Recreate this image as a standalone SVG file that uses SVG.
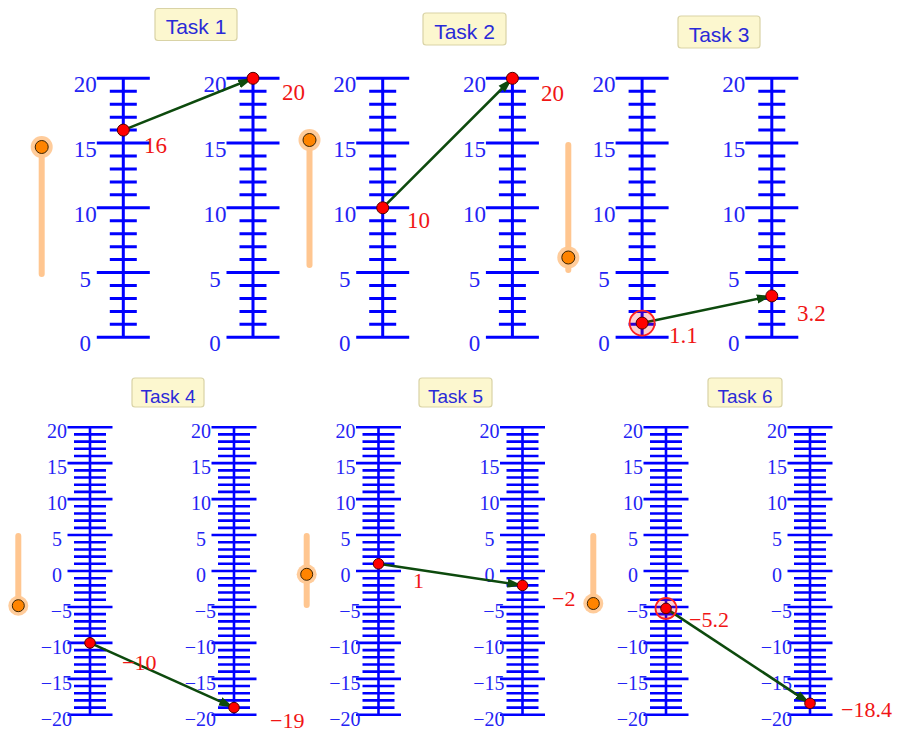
<svg xmlns="http://www.w3.org/2000/svg" xmlns:xlink="http://www.w3.org/1999/xlink" width="897" height="747" viewBox="0 0 897 747">
<style>
.ax{stroke:#0000ff;stroke-width:3;fill:none}
.axb{stroke:#0000ff;stroke-width:2.6;fill:none}
.lt{font-family:"Liberation Serif",serif;font-size:23px;fill:#2424f4;text-anchor:middle}
.lb{font-family:"Liberation Serif",serif;font-size:20px;fill:#2424f4;text-anchor:middle}
.lbn{font-family:"Liberation Serif",serif;font-size:20px;fill:#2424f4;text-anchor:end}
.box{fill:#fcf7cf;stroke:#d9d3a6;stroke-width:1.2}
.bt{font-family:"Liberation Sans",Arial,sans-serif;fill:#2a2ad8;text-anchor:middle}
.sl{stroke:#ffc690;stroke-width:6;stroke-linecap:round}
.halo{fill:#ffc690;opacity:0.9}
.knob{fill:#ff8400;stroke:#3a2200;stroke-width:1}
.vec{stroke:#0d4a0d;stroke-width:2.6;fill:none;marker-end:url(#ah)}
.pt{fill:#ff0000;stroke:#500000;stroke-width:1}
.ring{fill:rgba(255,0,0,0.18);stroke:#ff2020;stroke-width:1.8}
.val{font-family:"Liberation Serif",serif;fill:#f01515}
</style>
<defs>
<marker id="ah" markerUnits="userSpaceOnUse" markerWidth="16" markerHeight="10" refX="15" refY="5" orient="auto">
<path d="M0,0.5 L15,5 L0,9.5 z" fill="#0d4a0d"/>
</marker>
<path id="ladT" class="ax" d="M0 0V-259M-26.5 0H26.5M-26.5 -64.75H26.5M-26.5 -129.5H26.5M-26.5 -194.25H26.5M-26.5 -259H26.5M-13.5 -12.95H13.5M-13.5 -25.9H13.5M-13.5 -38.85H13.5M-13.5 -51.8H13.5M-13.5 -77.7H13.5M-13.5 -90.65H13.5M-13.5 -103.6H13.5M-13.5 -116.55H13.5M-13.5 -142.45H13.5M-13.5 -155.4H13.5M-13.5 -168.35H13.5M-13.5 -181.3H13.5M-13.5 -207.2H13.5M-13.5 -220.15H13.5M-13.5 -233.1H13.5M-13.5 -246.05H13.5"/>
<path id="ladB" class="axb" d="M0 -143.8V143.8M-22.5 -143.8H22.5M-22.5 -107.85H22.5M-22.5 -71.9H22.5M-22.5 -35.95H22.5M-22.5 0H22.5M-22.5 35.95H22.5M-22.5 71.9H22.5M-22.5 107.85H22.5M-22.5 143.8H22.5M-16 -7.19H16M-16 -14.38H16M-16 -21.57H16M-16 -28.76H16M-16 -43.14H16M-16 -50.33H16M-16 -57.52H16M-16 -64.71H16M-16 -79.09H16M-16 -86.28H16M-16 -93.47H16M-16 -100.66H16M-16 -115.04H16M-16 -122.23H16M-16 -129.42H16M-16 -136.61H16M-16 7.19H16M-16 14.38H16M-16 21.57H16M-16 28.76H16M-16 43.14H16M-16 50.33H16M-16 57.52H16M-16 64.71H16M-16 79.09H16M-16 86.28H16M-16 93.47H16M-16 100.66H16M-16 115.04H16M-16 122.23H16M-16 129.42H16M-16 136.61H16"/>
</defs>
<rect width="897" height="747" fill="#ffffff"/>

<!-- Task 1 -->
<g id="task1">
<rect class="box" x="155" y="8.5" width="82" height="32" rx="3"/>
<text class="bt" x="196" y="33.5" font-size="21">Task 1</text>
<g id="t1-slider"><line class="sl" x1="41.7" y1="147" x2="41.7" y2="274"/><circle class="halo" cx="41.7" cy="147" r="11"/><circle class="knob" cx="41.7" cy="147" r="6.5"/></g>
<g id="t1-left" transform="translate(123.3,337.3)"><use xlink:href="#ladT"/>
<text class="lt" x="-38" y="-245">20</text><text class="lt" x="-38" y="-180.25">15</text><text class="lt" x="-38" y="-115.5">10</text><text class="lt" x="-38" y="-50.75">5</text><text class="lt" x="-38" y="14">0</text></g>
<g id="t1-right" transform="translate(253,337.3)"><use xlink:href="#ladT"/>
<text class="lt" x="-38" y="-245">20</text><text class="lt" x="-38" y="-180.25">15</text><text class="lt" x="-38" y="-115.5">10</text><text class="lt" x="-38" y="-50.75">5</text><text class="lt" x="-38" y="14">0</text></g>
</g>

<!-- Task 2 -->
<g id="task2">
<rect class="box" x="423" y="13" width="83" height="32" rx="3"/>
<text class="bt" x="464.5" y="38.5" font-size="21">Task 2</text>
<g id="t2-slider"><line class="sl" x1="309.5" y1="140" x2="309.5" y2="265"/><circle class="halo" cx="309.5" cy="140" r="11"/><circle class="knob" cx="309.5" cy="140" r="6.5"/></g>
<g id="t2-left" transform="translate(382.7,337.3)"><use xlink:href="#ladT"/>
<text class="lt" x="-38" y="-245">20</text><text class="lt" x="-38" y="-180.25">15</text><text class="lt" x="-38" y="-115.5">10</text><text class="lt" x="-38" y="-50.75">5</text><text class="lt" x="-38" y="14">0</text></g>
<g id="t2-right" transform="translate(512.4,337.3)"><use xlink:href="#ladT"/>
<text class="lt" x="-38" y="-245">20</text><text class="lt" x="-38" y="-180.25">15</text><text class="lt" x="-38" y="-115.5">10</text><text class="lt" x="-38" y="-50.75">5</text><text class="lt" x="-38" y="14">0</text></g>
</g>

<!-- Task 3 -->
<g id="task3">
<rect class="box" x="678" y="16" width="82" height="32" rx="3"/>
<text class="bt" x="719" y="41.5" font-size="21">Task 3</text>
<g id="t3-slider"><line class="sl" x1="568.3" y1="145" x2="568.3" y2="270"/><circle class="halo" cx="568.3" cy="257.5" r="11"/><circle class="knob" cx="568.3" cy="257.5" r="6.5"/></g>
<g id="t3-left" transform="translate(642.1,337.3)"><use xlink:href="#ladT"/>
<text class="lt" x="-38" y="-245">20</text><text class="lt" x="-38" y="-180.25">15</text><text class="lt" x="-38" y="-115.5">10</text><text class="lt" x="-38" y="-50.75">5</text><text class="lt" x="-38" y="14">0</text></g>
<g id="t3-right" transform="translate(771.8,337.3)"><use xlink:href="#ladT"/>
<text class="lt" x="-38" y="-245">20</text><text class="lt" x="-38" y="-180.25">15</text><text class="lt" x="-38" y="-115.5">10</text><text class="lt" x="-38" y="-50.75">5</text><text class="lt" x="-38" y="14">0</text></g>
</g>

<!-- Task 4 -->
<g id="task4">
<rect class="box" x="132" y="378" width="72" height="29" rx="3"/>
<text class="bt" x="168" y="403" font-size="19">Task 4</text>
<g id="t4-slider"><line class="sl" x1="18.3" y1="536" x2="18.3" y2="606"/><circle class="halo" cx="18.3" cy="605.7" r="10"/><circle class="knob" cx="18.3" cy="605.7" r="6"/></g>
<g id="t4-left" transform="translate(90,571)"><use xlink:href="#ladB"/>
<text class="lb" x="-33" y="-132.8">20</text><text class="lb" x="-33" y="-96.85">15</text><text class="lb" x="-33" y="-60.9">10</text><text class="lb" x="-33" y="-24.95">5</text><text class="lb" x="-33" y="11">0</text><text class="lbn" x="-18" y="46.95">−5</text><text class="lbn" x="-18" y="82.9">−10</text><text class="lbn" x="-18" y="118.85">−15</text><text class="lbn" x="-18" y="154.8">−20</text></g>
<g id="t4-right" transform="translate(234,571)"><use xlink:href="#ladB"/>
<text class="lb" x="-33" y="-132.8">20</text><text class="lb" x="-33" y="-96.85">15</text><text class="lb" x="-33" y="-60.9">10</text><text class="lb" x="-33" y="-24.95">5</text><text class="lb" x="-33" y="11">0</text><text class="lbn" x="-18" y="46.95">−5</text><text class="lbn" x="-18" y="82.9">−10</text><text class="lbn" x="-18" y="118.85">−15</text><text class="lbn" x="-18" y="154.8">−20</text></g>
</g>

<!-- Task 5 -->
<g id="task5">
<rect class="box" x="419" y="378" width="73" height="29" rx="3"/>
<text class="bt" x="455.5" y="403" font-size="19">Task 5</text>
<g id="t5-slider"><line class="sl" x1="306.7" y1="536" x2="306.7" y2="605"/><circle class="halo" cx="306.7" cy="574.3" r="10"/><circle class="knob" cx="306.7" cy="574.3" r="6"/></g>
<g id="t5-left" transform="translate(378.5,571)"><use xlink:href="#ladB"/>
<text class="lb" x="-33" y="-132.8">20</text><text class="lb" x="-33" y="-96.85">15</text><text class="lb" x="-33" y="-60.9">10</text><text class="lb" x="-33" y="-24.95">5</text><text class="lb" x="-33" y="11">0</text><text class="lbn" x="-18" y="46.95">−5</text><text class="lbn" x="-18" y="82.9">−10</text><text class="lbn" x="-18" y="118.85">−15</text><text class="lbn" x="-18" y="154.8">−20</text></g>
<g id="t5-right" transform="translate(522.5,571)"><use xlink:href="#ladB"/>
<text class="lb" x="-33" y="-132.8">20</text><text class="lb" x="-33" y="-96.85">15</text><text class="lb" x="-33" y="-60.9">10</text><text class="lb" x="-33" y="-24.95">5</text><text class="lb" x="-33" y="11">0</text><text class="lbn" x="-18" y="46.95">−5</text><text class="lbn" x="-18" y="82.9">−10</text><text class="lbn" x="-18" y="118.85">−15</text><text class="lbn" x="-18" y="154.8">−20</text></g>
</g>

<!-- Task 6 -->
<g id="task6">
<rect class="box" x="708" y="378" width="74" height="29" rx="3"/>
<text class="bt" x="745" y="403" font-size="19">Task 6</text>
<g id="t6-slider"><line class="sl" x1="593.3" y1="536" x2="593.3" y2="605"/><circle class="halo" cx="593.3" cy="603.5" r="10"/><circle class="knob" cx="593.3" cy="603.5" r="6"/></g>
<g id="t6-left" transform="translate(666,571)"><use xlink:href="#ladB"/>
<text class="lb" x="-33" y="-132.8">20</text><text class="lb" x="-33" y="-96.85">15</text><text class="lb" x="-33" y="-60.9">10</text><text class="lb" x="-33" y="-24.95">5</text><text class="lb" x="-33" y="11">0</text><text class="lbn" x="-18" y="46.95">−5</text><text class="lbn" x="-18" y="82.9">−10</text><text class="lbn" x="-18" y="118.85">−15</text><text class="lbn" x="-18" y="154.8">−20</text></g>
<g id="t6-right" transform="translate(810,571)"><use xlink:href="#ladB"/>
<text class="lb" x="-33" y="-132.8">20</text><text class="lb" x="-33" y="-96.85">15</text><text class="lb" x="-33" y="-60.9">10</text><text class="lb" x="-33" y="-24.95">5</text><text class="lb" x="-33" y="11">0</text><text class="lbn" x="-18" y="46.95">−5</text><text class="lbn" x="-18" y="82.9">−10</text><text class="lbn" x="-18" y="118.85">−15</text><text class="lbn" x="-18" y="154.8">−20</text></g>
</g>

<!-- connectors -->
<g id="connectors">
<line class="vec" x1="123.3" y1="130.1" x2="253" y2="78.3"/>
<line class="vec" x1="382.7" y1="207.8" x2="512.4" y2="78.3"/>
<line class="vec" x1="642.1" y1="323.1" x2="771.8" y2="295.9"/>
<line class="vec" x1="90" y1="642.9" x2="234" y2="707.6"/>
<line class="vec" x1="378.5" y1="563.8" x2="522.5" y2="585.4"/>
<line class="vec" x1="666" y1="608.4" x2="810" y2="703.3"/>
</g>

<!-- points -->
<g id="points">
<g id="t1-points"><circle class="pt" cx="123.3" cy="130.1" r="6"/><circle class="pt" cx="253" cy="78.3" r="6"/>
<text class="val" x="144" y="153" font-size="23">16</text><text class="val" x="282" y="100" font-size="23">20</text></g>
<g id="t2-points"><circle class="pt" cx="382.7" cy="207.8" r="6"/><circle class="pt" cx="512.4" cy="78.3" r="6"/>
<text class="val" x="407" y="228" font-size="23">10</text><text class="val" x="541" y="101" font-size="23">20</text></g>
<g id="t3-points"><circle class="ring" cx="642.1" cy="323.1" r="12.5"/><circle class="pt" cx="642.1" cy="323.1" r="6"/><circle class="pt" cx="771.8" cy="295.9" r="6"/>
<text class="val" x="669" y="343" font-size="23">1.1</text><text class="val" x="797" y="321" font-size="23">3.2</text></g>
<g id="t4-points"><circle class="pt" cx="90" cy="642.9" r="5.3"/><circle class="pt" cx="234" cy="707.6" r="5.3"/>
<text class="val" x="122" y="670" font-size="22">−10</text><text class="val" x="270" y="728" font-size="22">−19</text></g>
<g id="t5-points"><circle class="pt" cx="378.5" cy="563.8" r="5.3"/><circle class="pt" cx="522.5" cy="585.4" r="5.3"/>
<text class="val" x="413" y="588" font-size="22">1</text><text class="val" x="552" y="606" font-size="22">−2</text></g>
<g id="t6-points"><circle class="ring" cx="666" cy="608.4" r="10.5"/><circle class="pt" cx="666" cy="608.4" r="5.3"/><circle class="pt" cx="810" cy="703.3" r="5.3"/>
<text class="val" x="689" y="627" font-size="22">−5.2</text><text class="val" x="841" y="717" font-size="22">−18.4</text></g>
</g>
</svg>
